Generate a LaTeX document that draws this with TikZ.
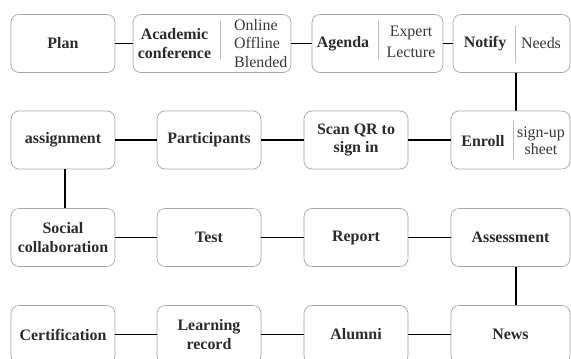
\documentclass[tikz,border=0pt]{standalone}
\usepackage{fontspec}
\setmainfont{Liberation Serif}
\definecolor{boxgray}{HTML}{A6A6A6}
\definecolor{divgray}{HTML}{BDBDBD}
\definecolor{txt}{HTML}{2B2B2B}
\definecolor{txttwo}{HTML}{383838}
\begin{document}
\begin{tikzpicture}[x=1bp,y=-1bp,
  box/.style={draw=boxgray, line width=0.7bp, rounded corners=8bp, minimum height=58bp,
    inner sep=0pt, align=center, text=txt, font=\fontsize{16}{19}\selectfont\bfseries},
  lbl/.style={inner sep=0pt, align=center, text=txt, font=\fontsize{16}{19}\selectfont\bfseries},
  sub/.style={inner sep=0pt, text=txttwo},
  conn/.style={line width=1.7bp, black},
  divider/.style={draw=divgray, line width=0.8bp}]
\fill[white] (0,0) rectangle (571,358);
\useasboundingbox (0,0) rectangle (571,358);
% Row 1
\node[box, minimum width=104bp] (plan) at (63,43.5) {Plan};
\node[box, minimum width=158bp] (academic) at (212,43.5) {};
\node[lbl] (acadL) at (174.5,43.5) {Academic\\conference};
\draw[divider] (220,21) -- (220,60);
\node[sub, anchor=west, align=left, font=\fontsize{16}{18.3}\selectfont] (acadR) at (234,43.5) {Online\\Offline\\Blended};
\node[box, minimum width=131bp] (agenda) at (377.5,43.5) {};
\node[lbl] (agendaL) at (343,43.5) {Agenda};
\draw[divider] (378,21) -- (378,59);
\node[sub, align=center, font=\fontsize{16}{21}\selectfont] (agendaR) at (411,42) {Expert\\Lecture};
\node[box, minimum width=117bp] (notify) at (511.5,43.5) {};
\node[lbl] (notifyL) at (485,44) {Notify};
\draw[divider] (515,26) -- (515,63);
\node[sub, font=\fontsize{16}{19}\selectfont] (notifyR) at (541,43.5) {Needs};
% Row 2
\node[box, minimum width=104bp] (assignment) at (63,140) {assignment};
\node[box, minimum width=104bp] (participants) at (209,140) {Participants};
\node[box, minimum width=104bp] (scanqr) at (356,140) {Scan QR to\\sign in};
\node[box, minimum width=119bp] (enroll) at (510.5,140) {};
\node[lbl] (enrollL) at (483,141) {Enroll};
\draw[divider] (513,121) -- (513,159);
\node[sub, align=center, font=\fontsize{16}{17.5}\selectfont] (enrollR) at (541,141) {sign-up\\sheet};
% Row 3
\node[box, minimum width=104bp] (social) at (63,237.5) {Social\\collaboration};
\node[box, minimum width=104bp] (test) at (209,237.5) {Test};
\node[box, minimum width=104bp] (report) at (356,237.5) {Report};
\node[box, minimum width=119bp] (assessment) at (510.5,237.5) {Assessment};
% Row 4
\node[box, minimum width=104bp] (certification) at (63,334.5) {Certification};
\node[box, minimum width=104bp] (learning) at (209,334.5) {Learning\\record};
\node[box, minimum width=104bp] (alumni) at (356,334.5) {Alumni};
\node[box, minimum width=119bp] (news) at (510.5,334.5) {News};
% Connectors
\draw[conn] (plan) -- (academic);
\draw[conn] (academic) -- (agenda);
\draw[conn] (agenda) -- (notify);
\draw[conn] ([xshift=4.5bp]notify.south) -- ([xshift=5.5bp]enroll.north);
\draw[conn] (enroll) -- (scanqr);
\draw[conn] (scanqr) -- (participants);
\draw[conn] (participants) -- (assignment);
\draw[conn] ([xshift=2bp]assignment.south) -- ([xshift=2bp]social.north);
\draw[conn] (social) -- (test);
\draw[conn] (test) -- (report);
\draw[conn] (report) -- (assessment);
\draw[conn] ([xshift=5.5bp]assessment.south) -- ([xshift=5.5bp]news.north);
\draw[conn] (news) -- (alumni);
\draw[conn] (alumni) -- (learning);
\draw[conn] (learning) -- (certification);
\end{tikzpicture}
\end{document}
